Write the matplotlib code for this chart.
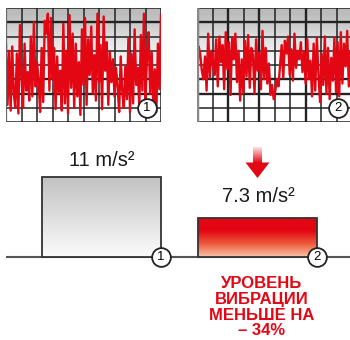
import numpy as np
import matplotlib

matplotlib.use("Agg")
import matplotlib.pyplot as plt
from matplotlib.colors import LinearSegmentedColormap
from matplotlib.patches import Rectangle, Polygon

# vibration traces, in grid units (0 = bottom row line, 8 = top row line)
sig_before = [5.4, 1.2, 5.0, 0.8, 5.3, 2.0, 1.0, 4.8, 0.6, 6.8, 3.2, 1.0, 5.5, 2.2, 3.5,
              1.5, 6.0, 1.8, 7.0, 2.5, 4.2, 3.0, 0.7, 5.2, 1.4, 7.1, 6.2, 7.6, 2.2, 7.3,
              3.0, 5.2, 0.9, 4.6, 2.0, 3.6, 0.8, 6.9, 1.3, 5.0, 0.6, 7.5, 2.4, 6.2, 1.0,
              5.5, 1.8, 4.2, 0.5, 6.5, 2.6, 7.3, 1.2, 5.8, 3.3, 6.7, 2.0, 4.7, 1.5, 7.6,
              2.8, 5.4, 0.9, 7.4, 3.6, 5.6, 1.2, 4.9, 2.8, 4.4, 1.8, 3.8, 2.5, 0.7, 4.6,
              2.2, 1.0, 3.9, 1.6, 5.9, 0.7, 4.8, 1.3, 6.5, 2.6, 3.8, 1.0, 6.1, 2.2, 7.6,
              1.6, 4.7, 6.3, 2.0, 4.9, 1.1, 3.7, 0.7, 5.5, 2.3, 7.5]
sig_after = [2.6, 5.3, 4.8, 3.6, 3.0, 4.6, 2.2, 6.2, 3.1, 5.0, 4.0, 3.3, 5.8, 2.5, 6.0,
             4.2, 5.4, 2.3, 6.3, 3.7, 5.6, 1.9, 5.9, 4.4, 6.2, 2.8, 5.0, 1.5, 4.4, 2.0,
             5.7, 3.2, 6.1, 2.4, 5.2, 4.7, 2.0, 5.8, 3.6, 4.9, 2.3, 6.4, 3.0, 5.2, 2.7,
             4.1, 1.9, 2.6, 1.6, 2.2, 3.0, 2.5, 4.0, 5.4, 3.1, 5.7, 4.8, 6.0, 3.3, 5.1,
             2.9, 6.2, 3.8, 5.0, 4.4, 5.6, 3.5, 4.9, 2.7, 5.8, 3.0, 4.3, 1.8, 5.5, 2.2,
             5.9, 3.4, 1.4, 4.8, 2.6, 6.0, 2.0, 5.2, 1.6, 4.5, 2.9, 5.9, 2.1, 5.6, 1.8,
             6.3, 2.7, 5.5, 3.9, 6.4, 2.5, 5.0, 3.2]

# bar levels (relative, as drawn) and their labels
categories = ["1", "2"]
bar_levels = [1.0, 0.49]
bar_labels = ["11 m/s\u00b2", "7.3 m/s\u00b2"]
note = "УРОВЕНЬ\nВИБРАЦИИ\nМЕНЬШЕ НА\n\u2013 34%"

RED = "#e30613"
W, H = 350, 340

fig = plt.figure(figsize=(W / 100, H / 100), dpi=100)


def px_axes(x0, y0, x1, y1, **kw):
    return fig.add_axes([x0 / W, 1 - y1 / H, (x1 - x0) / W, (y1 - y0) / H], **kw)


gray_cmap = LinearSegmentedColormap.from_list("g", ["#ffffff", "#e6e6e6", "#bcbcbc"])


def trace_panel(ax, sig, num, thick_h, thick_v):
    grad = np.linspace(0, 1, 200).reshape(-1, 1)
    grad = np.clip((grad - 0.45) / 0.5, 0, 1)
    ax.imshow(grad, extent=[0, 10, 0, 8], origin="lower", aspect="auto",
              cmap=gray_cmap, vmin=0, vmax=1, zorder=0)
    for i in range(11):
        ax.axvline(i, color="#222222", lw=1.7 if i in thick_v else 1.1, zorder=1)
    for j in range(9):
        ax.axhline(j, color="#222222", lw=1.7 if j in thick_h else 1.1, zorder=1)
    x = np.linspace(0, 10, len(sig))
    ax.plot(x, sig, color=RED, lw=1.7, zorder=2)
    ax.set_xlim(0, 10)
    ax.set_ylim(0, 8)
    ax.axis("off")
    ax.plot(9.1, 0.95, "o", ms=13.5, mfc="white", mec="#222222", mew=1.3, zorder=4,
            clip_on=False)
    ax.text(9.1, 0.95, num, ha="center", va="center", fontsize=9.5,
            family="Liberation Sans", zorder=5)


ax1 = px_axes(6, 8, 161, 122)
trace_panel(ax1, sig_before, "1", thick_h=[2, 3, 7], thick_v=[])
ax1.axvline(0, color="#666666", lw=1.6, zorder=3)
ax2 = px_axes(197, 8, 352, 122)
trace_panel(ax2, sig_after, "2", thick_h=[2, 3, 7], thick_v=[2, 4, 7])
ax2.axvline(0, color="#888888", lw=2.5, zorder=3)

# bottom: bars
axb = px_axes(0, 130, 350, 340)
centers = [101.2, 257.7]
bw = 119
cmaps = [LinearSegmentedColormap.from_list("b1", ["#fbfbfb", "#c2c2c2"]),
         LinearSegmentedColormap.from_list("b2", ["#f9c3a8", "#ef5a3c", RED, RED])]
bars = axb.bar(centers, bar_levels, width=bw, color="none", edgecolor="#333333",
               lw=1.3, zorder=3)
for b, cm in zip(bars, cmaps):
    x0, w, h = b.get_x(), b.get_width(), b.get_height()
    grad = np.linspace(0, 1, 100).reshape(-1, 1)
    im = axb.imshow(grad, extent=[x0, x0 + w, 0, h], origin="lower", aspect="auto",
                    cmap=cm, zorder=2)
    im.set_clip_path(Rectangle((x0, 0), w, h, transform=axb.transData))
axb.plot([7, 350], [0, 0], color="#555555", lw=1.5, zorder=1, clip_on=False)

for b, lab, num in zip(bars, bar_labels, categories):
    cx = b.get_x() + b.get_width() / 2
    off = 0.21 if num == "1" else 0.26
    axb.text(cx + 1, b.get_height() + off, lab, ha="center", va="center",
             fontsize=14.5, family="Liberation Sans", color="#1a1a1a")
    rx = b.get_x() + b.get_width()
    axb.plot(rx, 0, "o", ms=13.5, mfc="white", mec="#222222", mew=1.3, zorder=5,
             clip_on=False)
    axb.text(rx, 0, num, ha="center", va="center", fontsize=9.5,
             family="Liberation Sans", zorder=6)

axb.text(262, -0.63, note, ha="center", va="center", fontsize=12,
         fontweight="bold", family="Liberation Sans", color=RED, linespacing=1.06)
axb.set_xlim(0, 350)
axb.set_ylim(-83 / 80, 127 / 80)
axb.axis("off")

# red arrow, pixel coordinates
axo = px_axes(0, 0, 350, 340)
axo.set_xlim(0, W)
axo.set_ylim(H, 0)
axo.axis("off")
shaft = Rectangle((253, 147), 9, 16, facecolor="none", edgecolor="none")
axo.add_patch(shaft)
sg = np.linspace(0, 1, 50).reshape(-1, 1)
im = axo.imshow(sg, extent=[253, 262, 163, 147], aspect="auto",
                cmap=LinearSegmentedColormap.from_list("a", ["#fde3e0", RED]))
im.set_clip_path(shaft)
axo.add_patch(Polygon([(245.5, 162.5), (269.5, 162.5), (257.5, 178)], closed=True,
                      facecolor=RED, edgecolor="none"))
axo.set_xlim(0, W)
axo.set_ylim(H, 0)

fig.savefig("out.png", dpi=100)
